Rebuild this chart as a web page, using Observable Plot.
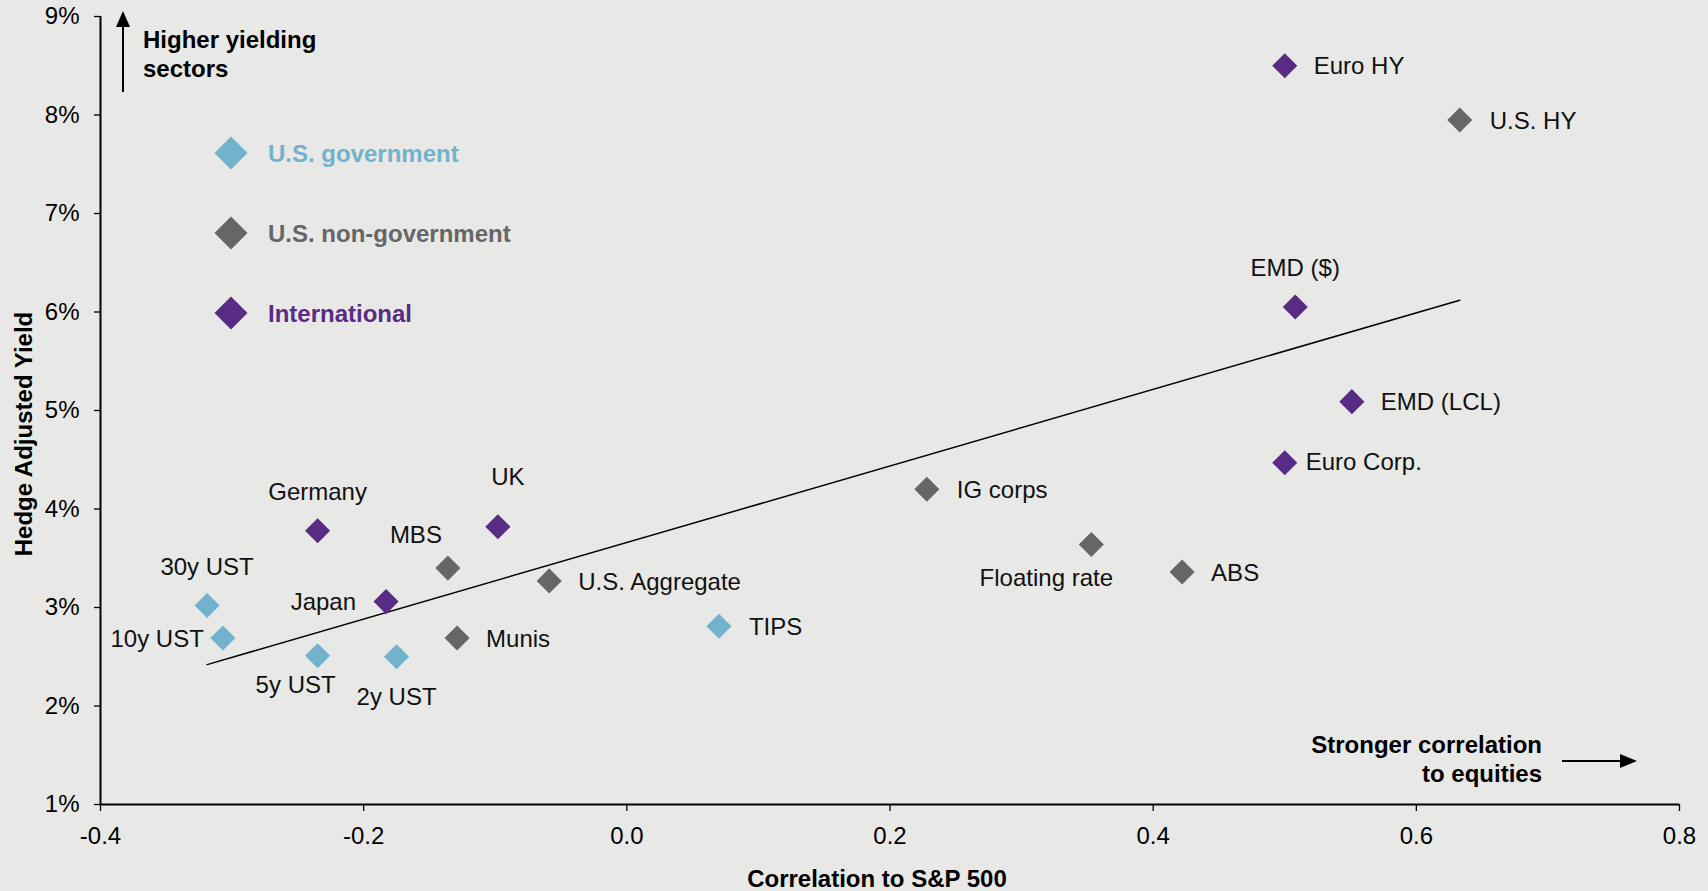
<!DOCTYPE html>
<html>
<head>
<meta charset="utf-8">
<script src="https://cdn.jsdelivr.net/npm/d3@7"></script>
<script src="https://cdn.jsdelivr.net/npm/@observablehq/plot@0.6"></script>
<style>
  html, body { margin: 0; padding: 0; background: #e8e8e6; }
  #wrap { position: relative; width: 1708px; height: 891px; overflow: hidden;
          font-family: "Liberation Sans", Arial, Helvetica, sans-serif; }
  #wrap > svg { position: absolute; left: 0; top: 0; }
  #overlay { pointer-events: none; }
</style>
</head>
<body>
<div id="wrap"></div>
<script>
// ---------- data ----------
const names = ["Euro HY", "U.S. HY", "EMD ($)", "EMD (LCL)", "Euro Corp.", "IG corps",
  "Floating rate", "ABS", "TIPS", "U.S. Aggregate", "Munis", "MBS", "UK", "Germany",
  "Japan", "30y UST", "10y UST", "5y UST", "2y UST"];
const correlation = [0.500, 0.633, 0.508, 0.551, 0.500, 0.228, 0.353, 0.422, 0.070,
  -0.059, -0.129, -0.136, -0.098, -0.235, -0.183, -0.319, -0.307, -0.235, -0.175];
const hedgeYield = [8.50, 7.95, 6.05, 5.09, 4.47, 4.20, 3.64, 3.36, 2.81,
  3.27, 2.69, 3.40, 3.82, 3.78, 3.06, 3.02, 2.69, 2.51, 2.50];
const sector = ["International", "U.S. non-government", "International", "International",
  "International", "U.S. non-government", "U.S. non-government", "U.S. non-government",
  "U.S. government", "U.S. non-government", "U.S. non-government", "U.S. non-government",
  "International", "International", "International", "U.S. government", "U.S. government",
  "U.S. government", "U.S. government"];
const sectors = ["U.S. government", "U.S. non-government", "International"];
const trendCorrelation = [-0.319, 0.633];
const trendYield = [2.42, 6.12];
const xTicks = [-0.4, -0.2, 0.0, 0.2, 0.4, 0.6, 0.8];
const yTicks = [1, 2, 3, 4, 5, 6, 7, 8, 9];

// ---------- style / layout ----------
const sectorColors = ["#72b2cc", "#666666", "#582c84"];
const FONT = '"Liberation Sans", Arial, Helvetica, sans-serif';
// label placement: [textAnchor, dx, dy]
const labelPlacement = {
  "Euro HY": ["start", 29, 1], "U.S. HY": ["start", 30, 1], "EMD ($)": ["middle", 0, -39],
  "EMD (LCL)": ["start", 29, 1], "Euro Corp.": ["start", 21, 0], "IG corps": ["start", 30, 1],
  "Floating rate": ["middle", -45, 34], "ABS": ["start", 29, 1], "TIPS": ["start", 30, 1],
  "U.S. Aggregate": ["start", 29, 1], "Munis": ["start", 29, 1], "MBS": ["middle", -32, -33],
  "UK": ["middle", 10, -49], "Germany": ["middle", 0, -38], "Japan": ["end", -30, 1],
  "30y UST": ["middle", 0, -38], "10y UST": ["end", -19, 1], "5y UST": ["middle", -22, 30],
  "2y UST": ["middle", 0, 41]
};

const points = names.map((n, i) => ({name: n, x: correlation[i], y: hedgeYield[i], sector: sector[i]}));
const trend = trendCorrelation.map((x, i) => ({x, y: trendYield[i]}));

const labelMarks = points.map(p => {
  const [anchor, dx, dy] = labelPlacement[p.name];
  return Plot.text([p], {x: "x", y: "y", text: "name", textAnchor: anchor, dx, dy,
    fontSize: 24, fill: "#111", fontFamily: FONT});
});

const chart = Plot.plot({
  width: 1708, height: 891,
  marginLeft: 100, marginRight: 29, marginTop: 16, marginBottom: 87,
  style: {background: "transparent", fontFamily: FONT, fontSize: "24px", color: "#000", overflow: "visible"},
  x: {domain: [-0.4, 0.8]},
  y: {domain: [1, 9]},
  color: {domain: sectors, range: sectorColors},
  marks: [
    Plot.axisX({ticks: xTicks, tickFormat: d => d.toFixed(1), tickSize: 7, tickPadding: 15,
      fontSize: 24, label: null, strokeWidth: 1.3}),
    Plot.axisY({ticks: yTicks, tickFormat: d => d + "%", tickSize: 6, tickPadding: 15,
      fontSize: 24, label: null, strokeWidth: 1.3}),
    Plot.ruleY([1], {stroke: "#000", strokeWidth: 2.2}),
    Plot.ruleX([-0.4], {stroke: "#000", strokeWidth: 2}),
    Plot.line(trend, {x: "x", y: "y", stroke: "#000", strokeWidth: 1.5}),
    Plot.dot(points, {x: "x", y: "y", fill: "sector", symbol: "diamond2", r: 11.3}),
    ...labelMarks
  ]
});
document.getElementById("wrap").appendChild(chart);

// ---------- annotations, legend, axis titles (overlay) ----------
const ov = d3.select("#wrap").append("svg").attr("id", "overlay")
  .attr("width", 1708).attr("height", 891)
  .style("font-family", FONT);

// legend
const lg = ov.append("g");
sectors.forEach((s, i) => {
  const cy = 153 + i * 80, cx = 231, h = 16.5;
  lg.append("polygon")
    .attr("points", `${cx},${cy - h} ${cx + h},${cy} ${cx},${cy + h} ${cx - h},${cy}`)
    .attr("fill", sectorColors[i]);
  lg.append("text").attr("x", 268).attr("y", cy + 9)
    .attr("font-size", 24).attr("font-weight", "bold").attr("fill", sectorColors[i]).text(s);
});

// higher yielding arrow + text
ov.append("line").attr("x1", 123).attr("x2", 123).attr("y1", 92).attr("y2", 24)
  .attr("stroke", "#000").attr("stroke-width", 2);
ov.append("polygon").attr("points", "123,11 116,27 130,27").attr("fill", "#000");
ov.append("text").attr("x", 143).attr("y", 48).attr("font-size", 24).attr("font-weight", "bold")
  .attr("fill", "#000").text("Higher yielding");
ov.append("text").attr("x", 143).attr("y", 77).attr("font-size", 24).attr("font-weight", "bold")
  .attr("fill", "#000").text("sectors");

// stronger correlation arrow + text
ov.append("text").attr("x", 1542).attr("y", 753).attr("text-anchor", "end").attr("font-size", 24)
  .attr("font-weight", "bold").attr("fill", "#000").text("Stronger correlation");
ov.append("text").attr("x", 1542).attr("y", 782).attr("text-anchor", "end").attr("font-size", 24)
  .attr("font-weight", "bold").attr("fill", "#000").text("to equities");
ov.append("line").attr("x1", 1562).attr("x2", 1622).attr("y1", 761).attr("y2", 761)
  .attr("stroke", "#000").attr("stroke-width", 2);
ov.append("polygon").attr("points", "1637,761 1620,754 1620,768").attr("fill", "#000");

// axis titles
ov.append("text").attr("transform", "translate(32,434) rotate(-90)").attr("text-anchor", "middle")
  .attr("font-size", 24).attr("font-weight", "bold").attr("fill", "#000").text("Hedge Adjusted Yield");
ov.append("text").attr("x", 877).attr("y", 887).attr("text-anchor", "middle")
  .attr("font-size", 24).attr("font-weight", "bold").attr("fill", "#000").text("Correlation to S&P 500");
</script>
</body>
</html>
